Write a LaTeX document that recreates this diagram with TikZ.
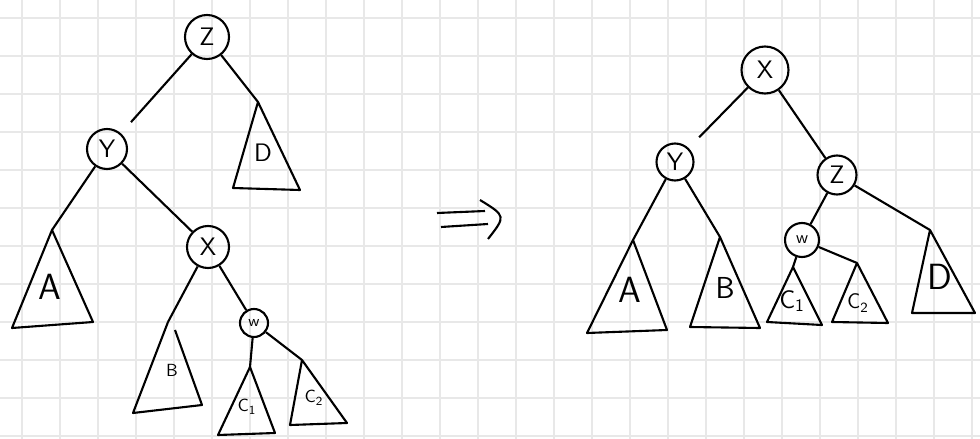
\documentclass[tikz,border=0pt]{standalone}
\usetikzlibrary{positioning}
\begin{document}
\begin{tikzpicture}[x=0.02cm,y=-0.02cm,line width=1.2pt,line join=round,
  vert/.style={draw,circle,inner sep=0pt,minimum size=0.8cm,font=\Large\sffamily},
  lab/.style={font=\Large\sffamily},
  gap/.style={shorten >=0.3cm}]
\useasboundingbox (0,0) rectangle (980,439);
\foreach \i in {0,...,25} \draw[black!9,line width=0.9pt] (22+38*\i,0) -- (22+38*\i,439);
\foreach \j in {0,...,11} \draw[black!9,line width=0.9pt] (0,18+38*\j) -- (980,18+38*\j);
% before
\node[vert,minimum size=0.88cm] (z) at (207,37) {Z};
\node[vert] (y) at (107,149) {Y};
\node[vert,minimum size=0.84cm] (x) at (208,247) {X};
\node[vert,minimum size=0.56cm,font=\small\sffamily] (w) at (254,323) {w};
\coordinate (dtop) at (258,102);
\coordinate (atop) at (52,230);
\coordinate (btop) at (168,322);
\coordinate (c1top) at (250,367);
\coordinate (c2top) at (302,360);
\draw (dtop) -- (233,188) -- (300,190) -- cycle;
\draw (atop) -- (12,328) -- (93,322) -- cycle;
\draw (btop) -- (133,413) -- (202,405) -- (175,330);
\draw (c1top) -- (218,435) -- (275,433) -- cycle;
\draw (c2top) -- (290,425) -- (347,423) -- cycle;
\node[lab] (dl) at (263,153) {D};
\node[lab,font=\huge\sffamily] (al) at (50,287) {A};
\node[lab,font=\normalsize\sffamily] (bl) at (172,370) {B};
\node[lab,font=\normalsize\sffamily] (c1l) at (247,407) {C\textsubscript{1}};
\node[lab,font=\normalsize\sffamily] (c2l) at (314,398) {C\textsubscript{2}};
\draw[gap] (z) -- (y);
\draw (z) -- (dtop);
\draw (y) -- (atop);
\draw (y) -- (x);
\draw (x) -- (btop);
\draw (x) -- (w);
\draw (w) -- (c1top);
\draw (w) -- (c2top);
% arrow
\draw (437,213) -- (485,211);
\draw (441,227) -- (488,224);
\draw (480,200) .. controls (506,216) .. (488,239);
% after
\node[vert,minimum size=0.94cm] (rx) at (765,70) {X};
\node[vert,minimum size=0.74cm] (ry) at (675,162) {Y};
\node[vert,minimum size=0.78cm] (rz) at (837,175) {Z};
\node[vert,minimum size=0.68cm,font=\normalsize\sffamily] (rw) at (802,240) {w};
\coordinate (rat) at (633,240);
\coordinate (rbt) at (720,237);
\coordinate (rc1t) at (793,267);
\coordinate (rc2t) at (857,263);
\coordinate (rdt) at (930,230);
\draw (rat) -- (587,333) -- (667,330) -- cycle;
\draw (rbt) -- (690,327) -- (760,328) -- cycle;
\draw (rc1t) -- (767,322) -- (822,325) -- cycle;
\draw (rc2t) -- (832,322) -- (888,323) -- cycle;
\draw (rdt) -- (912,313) -- (975,313) -- cycle;
\node[lab,font=\huge\sffamily] (ral) at (630,290) {A};
\node[lab,font=\LARGE\sffamily] (rbl) at (725,288) {B};
\node[lab] (rc1l) at (792,301) {C\textsubscript{1}};
\node[lab,font=\large\sffamily] (rc2l) at (858,303) {C\textsubscript{2}};
\node[lab,font=\huge\sffamily] (rdl) at (940,277) {D};
\draw[gap] (rx) -- (ry);
\draw (rx) -- (rz);
\draw (ry) -- (rat);
\draw (ry) -- (rbt);
\draw (rz) -- (rw);
\draw (rz) -- (rdt);
\draw (rw) -- (rc1t);
\draw (rw) -- (rc2t);
\end{tikzpicture}
\end{document}
